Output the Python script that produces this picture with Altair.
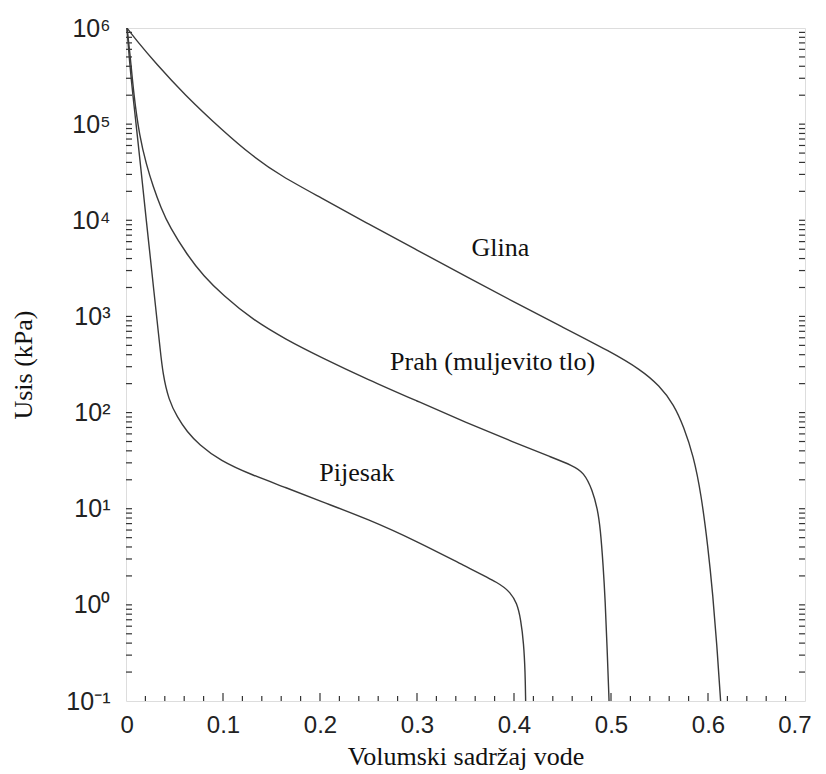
import json
import altair as alt
import pandas as pd

# --- curve data (volumetric water content, suction kPa) ---
glina_theta = [0.001, 0.01, 0.03, 0.06, 0.1, 0.13, 0.16, 0.2, 0.25, 0.3,
               0.35, 0.4, 0.45, 0.5, 0.53, 0.55, 0.565, 0.575, 0.585, 0.593,
               0.6, 0.605, 0.609, 0.613]
glina_psi = [1000000, 760000, 437000, 204000, 85100, 46800, 28800, 17400, 9120, 4900,
             2630, 1410, 776, 427, 282, 191, 120, 71, 35.5, 14.1,
             3.98, 1.26, 0.40, 0.1]

prah_theta = [0.001, 0.004, 0.008, 0.014, 0.021, 0.028, 0.036, 0.045, 0.063, 0.08,
              0.1, 0.13, 0.165, 0.2, 0.25, 0.3, 0.35, 0.4, 0.44, 0.46,
              0.472, 0.481, 0.486, 0.489, 0.492, 0.494, 0.496, 0.498]
prah_psi = [1000000, 562000, 200000, 74100, 38000, 22400, 13500, 8510, 4370, 2630,
            1660, 933, 575, 380, 219, 132, 79.4, 49, 33.9, 28.2,
            24.0, 15.5, 10.0, 6.31, 2.51, 1.12, 0.355, 0.1]

pijesak_theta = [0.001, 0.004, 0.008, 0.012, 0.017, 0.021, 0.025, 0.029, 0.032, 0.035,
                 0.038, 0.044, 0.053, 0.063, 0.075, 0.097, 0.13, 0.165, 0.2, 0.25,
                 0.3, 0.35, 0.386, 0.396, 0.403, 0.407, 0.410, 0.4115, 0.412]
pijesak_psi = [1000000, 398000, 166000, 70800, 24000, 9770, 4170, 1740, 912, 479,
               251, 135, 89.1, 63.1, 46.8, 31.6, 22.4, 16.6, 12.0, 7.76,
               4.57, 2.51, 1.66, 1.35, 1.05, 0.708, 0.398, 0.2, 0.1]

soil_names = ["Glina", "Prah (muljevito tlo)", "Pijesak"]
label_theta = [0.386, 0.378, 0.238]
label_psi = [5130, 335, 23.4]

x_major = [0, 0.1, 0.2, 0.3, 0.4, 0.5, 0.6, 0.7]
y_major = [0.1, 1, 10, 100, 1000, 10000, 100000, 1000000]
y_labels = ["10⁻¹", "10⁰", "10¹", "10²", "10³", "10⁴", "10⁵", "10⁶"]
x_minor = [0.02, 0.04, 0.06, 0.08, 0.12, 0.14, 0.16, 0.18, 0.22, 0.24, 0.26, 0.28,
           0.32, 0.34, 0.36, 0.38, 0.42, 0.44, 0.46, 0.48, 0.52, 0.54, 0.56, 0.58,
           0.62, 0.64, 0.66, 0.68]
x_major_inner = [0.1, 0.2, 0.3, 0.4, 0.5, 0.6]
y_minor_mult = [2, 3, 4, 5, 6, 7, 8, 9]
y_decades = [0.1, 1, 10, 100, 1000, 10000, 100000]

# --- tables ---
rows = []
for name, xs, ys in [(soil_names[0], glina_theta, glina_psi),
                     (soil_names[1], prah_theta, prah_psi),
                     (soil_names[2], pijesak_theta, pijesak_psi)]:
    for i, (a, b) in enumerate(zip(xs, ys)):
        rows.append({"soil": name, "theta": a, "psi": b, "order": i})
curves = pd.DataFrame(rows)
labels = pd.DataFrame({"text": soil_names, "theta": label_theta, "psi": label_psi})
xminor_df = pd.DataFrame({"t": x_minor})
xmajor_df = pd.DataFrame({"t": x_major_inner})
y_ticks = [d * m for d in y_decades for m in y_minor_mult] + y_major[1:-1]
yticks_df = pd.DataFrame({"t": y_ticks})

W, H = 679, 673
xscale = alt.Scale(domain=[0, 0.7], nice=False, zero=False)
yscale = alt.Scale(type="log", domain=[0.1, 1000000], nice=False)

label_expr = json.dumps(y_labels, ensure_ascii=False) + "[round(log(datum.value)/LN10)+1]"

x_axis = alt.Axis(values=x_major, format="~g", ticks=False, tickSize=0, domain=False,
                  grid=False, labelFont="Liberation Sans", labelFontSize=24,
                  labelColor="#222", labelPadding=12, labelFlush=True,
                  labelFlushOffset=6,
                  title="Volumski sadržaj vode", titleFont="Liberation Serif",
                  titleFontSize=26, titleFontWeight="normal", titleColor="#111",
                  titleBaseline="alphabetic", titleY=63)
y_axis = alt.Axis(values=y_major, labelExpr=label_expr, ticks=False, tickSize=0,
                  domain=False, grid=False, labelFont="Liberation Sans",
                  labelFontSize=25, labelColor="#222", labelPadding=16,
                  labelFlush=False,
                  title="Usis (kPa)", titleFont="Liberation Serif", titleFontSize=26,
                  titleFontWeight="normal", titleColor="#111",
                  titleX=-90, titleY=H / 2)

lines = alt.Chart(curves).mark_line(
    color="#3a3a3a", strokeWidth=1.4, interpolate="basis", clip=True
).encode(
    x=alt.X("theta:Q", scale=xscale, axis=x_axis),
    y=alt.Y("psi:Q", scale=yscale, axis=y_axis),
    detail="soil:N",
    order="order:Q",
)

texts = alt.Chart(labels).mark_text(
    font="Liberation Serif", fontSize=26, color="#111", align="center", baseline="middle"
).encode(
    x=alt.X("theta:Q", scale=xscale),
    y=alt.Y("psi:Q", scale=yscale),
    text="text:N",
)

xminor_ticks = alt.Chart(xminor_df).mark_rule(color="#333", strokeWidth=1.2).encode(
    x=alt.X("t:Q", scale=xscale), y=alt.value(H), y2=alt.value(H - 5))
xmajor_ticks = alt.Chart(xmajor_df).mark_rule(color="#333", strokeWidth=1.2).encode(
    x=alt.X("t:Q", scale=xscale), y=alt.value(H), y2=alt.value(H - 8))
yleft_ticks = alt.Chart(yticks_df).mark_rule(color="#333", strokeWidth=1.2).encode(
    y=alt.Y("t:Q", scale=yscale), x=alt.value(0), x2=alt.value(6))
yright_ticks = alt.Chart(yticks_df).mark_rule(color="#333", strokeWidth=1.2).encode(
    y=alt.Y("t:Q", scale=yscale), x=alt.value(W), x2=alt.value(W - 6))

chart = alt.layer(
    xminor_ticks, xmajor_ticks, yleft_ticks, yright_ticks, lines, texts
).properties(
    width=W, height=H,
    padding={"left": 118, "top": 20, "right": 12, "bottom": 70},
    autosize=alt.AutoSizeParams(type="none"),
).configure_view(
    stroke="#333", strokeWidth=1.5
).configure(background="white")

chart.save("out.html", embed_options={"renderer": "svg", "actions": False})
